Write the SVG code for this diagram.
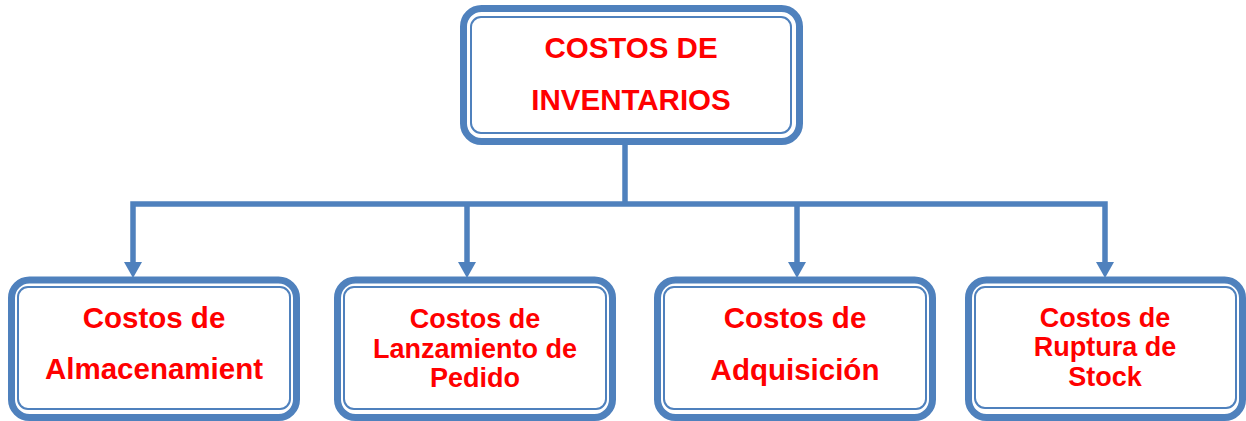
<svg xmlns="http://www.w3.org/2000/svg" width="1246" height="421" viewBox="0 0 1246 421">
<style>
.outer{fill:#ffffff;stroke:#4F81BD;stroke-width:7}
.inner{fill:none;stroke:#4F81BD;stroke-width:2}
.lbl{font-family:"Liberation Sans",Arial,sans-serif;font-weight:bold;fill:#FF0000;text-anchor:middle}
.big{font-size:29.5px}
.mid{font-size:27px}
.wire{fill:none;stroke:#4F81BD;stroke-width:5.5}
.head{fill:#4F81BD}
</style>
<rect width="1246" height="421" fill="#ffffff"/>
<g id="connectors">
<polyline class="wire" points="625,145 625,204"/>
<polyline class="wire" points="133,263 133,204 1105,204 1105,263"/>
<line class="wire" x1="467" y1="204" x2="467" y2="263"/>
<line class="wire" x1="797" y1="204" x2="797" y2="263"/>
<polygon class="head" points="124,262 142,262 133,278"/>
<polygon class="head" points="458,262 476,262 467,278"/>
<polygon class="head" points="788,262 806,262 797,278"/>
<polygon class="head" points="1096,262 1114,262 1105,278"/>
</g>
<g id="root">
<rect class="outer" x="463.5" y="8.5" width="336" height="133" rx="18"/>
<rect class="inner" x="471" y="17" width="320" height="116" rx="10"/>
<text class="lbl big" x="631" y="58">COSTOS DE</text>
<text class="lbl big" x="631" y="110">INVENTARIOS</text>
</g>
<g id="almacenamiento">
<rect class="outer" x="11.5" y="280" width="285" height="137.5" rx="18"/>
<rect class="inner" x="18" y="287" width="272" height="122" rx="10"/>
<text class="lbl big" x="154" y="328">Costos de</text>
<text class="lbl big" x="154" y="379">Almacenamient</text>
</g>
<g id="lanzamiento">
<rect class="outer" x="337.5" y="280" width="275" height="137.5" rx="18"/>
<rect class="inner" x="344" y="287" width="262" height="122" rx="10"/>
<text class="lbl mid" x="475" y="328">Costos de</text>
<text class="lbl mid" x="475" y="358">Lanzamiento de</text>
<text class="lbl mid" x="475" y="387">Pedido</text>
</g>
<g id="adquisicion">
<rect class="outer" x="657.5" y="280" width="275" height="137.5" rx="18"/>
<rect class="inner" x="664" y="287" width="262" height="122" rx="10"/>
<text class="lbl big" x="795" y="328">Costos de</text>
<text class="lbl big" x="795" y="380">Adquisición</text>
</g>
<g id="ruptura">
<rect class="outer" x="968.5" y="280" width="274" height="137.5" rx="18"/>
<rect class="inner" x="975" y="287" width="261" height="121" rx="10"/>
<text class="lbl mid" x="1105" y="327">Costos de</text>
<text class="lbl mid" x="1105" y="356">Ruptura de</text>
<text class="lbl mid" x="1105" y="386">Stock</text>
</g>
</svg>
